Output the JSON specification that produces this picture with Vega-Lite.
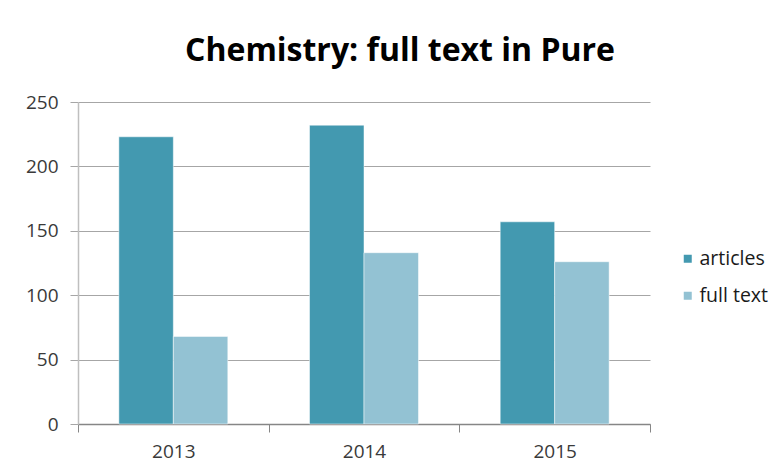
{
  "$schema": "https://vega.github.io/schema/vega-lite/v6.json",
  "width": 572,
  "height": 322,
  "autosize": {"type": "none"},
  "padding": {"left": 78, "top": 102, "right": 122, "bottom": 48},
  "background": "white",
  "title": {
    "text": "Chemistry: full text in Pure",
    "font": "Open Sans",
    "fontSize": 32,
    "fontWeight": "bold",
    "color": "#000000",
    "anchor": "middle",
    "frame": "group",
    "offset": 25,
    "dx": 36
  },
  "data": {
    "values": [
      {"year": "2013", "series": "articles", "value": 223},
      {"year": "2013", "series": "full text", "value": 68},
      {"year": "2014", "series": "articles", "value": 232},
      {"year": "2014", "series": "full text", "value": 133},
      {"year": "2015", "series": "articles", "value": 157},
      {"year": "2015", "series": "full text", "value": 126}
    ]
  },
  "mark": {"type": "bar", "stroke": "white", "strokeWidth": 0.5},
  "encoding": {
    "x": {
      "field": "year",
      "type": "nominal",
      "scale": {"paddingInner": 0, "paddingOuter": 0},
      "axis": {
        "title": null,
        "labelAngle": 0,
        "labelFont": "Open Sans",
        "labelFontSize": 19,
        "labelColor": "#3a3a3a",
        "labelPadding": 10,
        "tickBand": "extent",
        "tickSize": 8,
        "tickColor": "#868686",
        "domainColor": "#868686",
        "domainWidth": 1.5,
        "grid": false
      }
    },
    "xOffset": {"field": "series", "type": "nominal", "scale": {"paddingInner": 0, "paddingOuter": 0.75}},
    "y": {
      "field": "value",
      "type": "quantitative",
      "scale": {"domain": [0, 250], "nice": false},
      "axis": {
        "title": null,
        "values": [0, 50, 100, 150, 200, 250],
        "labelFont": "Open Sans",
        "labelFontSize": 19,
        "labelColor": "#3a3a3a",
        "labelPadding": 12,
        "tickSize": 8,
        "tickColor": "#a6a6a6",
        "domainColor": "#bfbfbf",
        "domainWidth": 1.5,
        "grid": true,
        "gridColor": "#a6a6a6",
        "gridWidth": 1
      }
    },
    "color": {
      "field": "series",
      "type": "nominal",
      "scale": {"domain": ["articles", "full text"], "range": ["#4399b0", "#93c2d3"]},
      "legend": {
        "title": null,
        "orient": "none",
        "legendX": 600,
        "legendY": 147,
        "symbolType": "square",
        "symbolSize": 64,
        "symbolStrokeWidth": 0,
        "labelFont": "Open Sans",
        "labelFontSize": 19.5,
        "labelColor": "#1a1a1a",
        "labelOffset": 2,
        "rowPadding": 16
      }
    }
  },
  "config": {"view": {"stroke": null}}
}
